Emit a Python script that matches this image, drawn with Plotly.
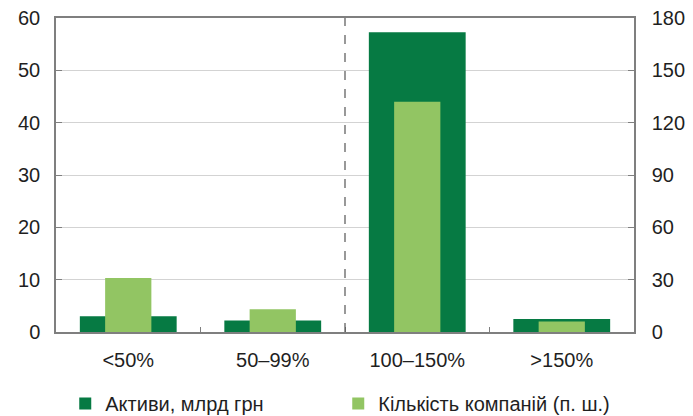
"""
Assets vs number of companies by coverage ratio group, two-axis bar chart.
"""

import plotly.graph_objects as go

categories = ['<50%', '50–99%', '100–150%', '>150%']
assets_bn_uah = [3.0, 2.2, 57.3, 2.5]
companies_count = [31, 13, 132, 6]

dark_green = '#067A43'
light_green = '#92C563'
text_color = '#1F1F1F'
axis_color = '#7F7F7F'
font_family = 'Liberation Sans, Arial, sans-serif'

fig = go.Figure()
fig.add_trace(
    go.Bar(
        x=categories,
        y=assets_bn_uah,
        name='Активи, млрд грн',
        marker={'color': dark_green, 'line': {'width': 0}},
        width=0.67,
        offset=-0.335,
        yaxis='y'
    )
)
fig.add_trace(
    go.Bar(
        x=categories,
        y=companies_count,
        name='Кількість компаній (п. ш.)',
        marker={'color': light_green, 'line': {'width': 0}},
        width=0.32,
        offset=-0.16,
        yaxis='y2'
    )
)

# dashed separator between the 50–99% and 100–150% groups
fig.add_shape(
    type='line', xref='x', yref='paper',
    x0=1.5, x1=1.5, y0=0, y1=1,
    line={'color': '#555555', 'width': 1.2, 'dash': 'dash'}
)

fig.update_layout(
    {'plot_bgcolor': '#FFFFFF', 'paper_bgcolor': '#FFFFFF'},
    width=693,
    height=416,
    margin={'l': 56, 'r': 59, 't': 18, 'b': 84, 'autoexpand': False},
    barmode='overlay',
    showlegend=True,
    font={'family': font_family, 'size': 20, 'color': text_color},
    legend={
        'orientation': 'h',
        'x': 0.016, 'xanchor': 'left',
        'yref': 'container',
        'y': 0.03, 'yanchor': 'middle',
        'entrywidth': 228, 'entrywidthmode': 'pixels',
        'font': {'size': 20, 'color': text_color},
        'itemclick': False,
    },
    xaxis={
        'type': 'category',
        'range': [-0.5, 3.5],
        'automargin': False,
        'showline': True, 'linecolor': axis_color, 'linewidth': 1.5,
        'mirror': True,
        'ticks': 'inside', 'tickson': 'boundaries', 'ticklen': 5,
        'tickcolor': axis_color,
        'showgrid': False,
        'ticklabelstandoff': 9,
        'tickfont': {'size': 20, 'color': text_color},
    },
    yaxis={
        'range': [0, 60],
        'dtick': 10,
        'automargin': False,
        'showline': True, 'linecolor': axis_color, 'linewidth': 1.5,
        'showgrid': True, 'gridcolor': '#D3D3D3', 'gridwidth': 1,
        'ticks': 'inside', 'ticklen': 6, 'tickcolor': axis_color,
        'zeroline': False,
        'ticklabelstandoff': 10,
        'tickfont': {'size': 20, 'color': text_color},
    },
    yaxis2={
        'range': [0, 180],
        'dtick': 30,
        'overlaying': 'y',
        'side': 'right',
        'automargin': False,
        'showline': True, 'linecolor': axis_color, 'linewidth': 1.5,
        'showgrid': False,
        'ticks': 'inside', 'ticklen': 6, 'tickcolor': axis_color,
        'zeroline': False,
        'ticklabelstandoff': 12,
        'tickfont': {'size': 20, 'color': text_color},
    },
)

# the page body has a default 8px margin; drop it so the figure fits the window
fig.write_html(
    'out.html',
    config={'displayModeBar': False},
    post_script="document.body.style.margin = '0';"
)
